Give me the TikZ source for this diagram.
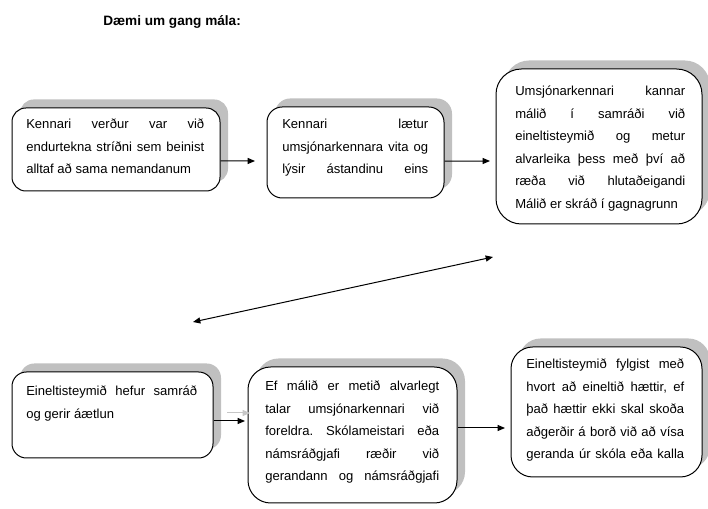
\documentclass[tikz,border=0pt]{standalone}
\usepackage{fontspec}
\setmainfont{Liberation Sans}
\usetikzlibrary{positioning,arrows.meta,calc,fit,shadows}
\definecolor{shadegray}{RGB}{192,192,192}
\newcommand{\jbreak}{{\parfillskip=0pt\par}}
\frenchspacing

\begin{document}
\begin{tikzpicture}[x=0.75pt,y=-0.75pt,
  box/.style={draw=black, line width=0.75pt, fill=white, inner sep=0pt,
    drop shadow={shadow xshift=6pt, shadow yshift=6.4pt, fill=shadegray, opacity=1}},
  boxtext/.style={anchor=north west, inner sep=0pt, align=justify,
    font=\fontsize{9.8}{16.9}\selectfont},
  arr/.style={line width=0.75pt, -{Triangle[length=5.5pt,width=4.5pt]}}]
  \useasboundingbox (0,0) rectangle (708,509);

  \node[anchor=base west, inner sep=0pt, font=\fontsize{10.2}{12}\selectfont\bfseries]
    (title) at (103,26) {Dæmi um gang mála:};

  \node[box, rounded corners=10.4pt, fit={(12,108) (220,191)}] (b1) {};
  \node[box, rounded corners=11.4pt, fit={(267,107) (444,198)}] (b2) {};
  \node[box, rounded corners=19pt, fit={(496,69) (702,224)}] (b3) {};
  \node[box, rounded corners=10.8pt, fit={(12,372) (213,458)}] (b4) {};
  \node[box, rounded corners=17pt, fit={(248,367) (457,503)}] (b5) {};
  \node[box, rounded corners=16.3pt, fit={(511,347) (702,477)}] (b6) {};

  \node[boxtext, text width=133.5pt] (t1) at (26,112.7)
    {\noindent\strut Kennari verður var við\jbreak
     endurtekna stríðni sem beinist\jbreak
     alltaf að sama nemandanum};
  \node[boxtext, text width=109.5pt] (t2) at (282,112.7)
    {\noindent\strut Kennari lætur\jbreak
     umsjónarkennara vita og\jbreak
     lýsir ástandinu eins\jbreak};
  \node[boxtext, text width=127.5pt] (t3) at (515,79.7)
    {\noindent\strut Umsjónarkennari kannar\jbreak
     málið í samráði við\jbreak
     eineltisteymið og metur\jbreak
     alvarleika þess með því að\jbreak
     ræða við hlutaðeigandi\jbreak
     Málið er skráð í gagnagrunn};
  \node[boxtext, text width=128.25pt] (t4) at (26,379.7)
    {\noindent\strut Eineltisteymið hefur samráð\jbreak
     og gerir áætlun};
  \node[boxtext, text width=130.5pt] (t5) at (265,374.7)
    {\noindent\strut Ef málið er metið alvarlegt\jbreak
     talar umsjónarkennari við\jbreak
     foreldra. Skólameistari eða\jbreak
     námsráðgjafi ræðir við\jbreak
     gerandann og námsráðgjafi\jbreak};
  \node[boxtext, text width=118.5pt] (t6) at (526,352.7)
    {\noindent\strut Eineltisteymið fylgist með\jbreak
     hvort að eineltið hættir, ef\jbreak
     það hættir ekki skal skoða\jbreak
     aðgerðir á borð við að vísa\jbreak
     geranda úr skóla eða kalla\jbreak};

  \coordinate (e1) at (255,161);
  \coordinate (e2) at (490,161);
  \coordinate (d1) at (493,257);
  \coordinate (d2) at (193,322);
  \coordinate (e4) at (245,421);
  \coordinate (g4a) at (227,413);
  \coordinate (g4b) at (250,413);
  \coordinate (e5) at (505,428);

  \draw[arr] ([yshift=-8.6pt]b1.east) -- (e1);
  \draw[arr] ([yshift=-6.4pt]b2.east) -- (e2);
  \draw[line width=0.75pt, {Triangle[length=5.5pt,width=4.5pt]}-{Triangle[length=5.5pt,width=4.5pt]}] (d1) -- (d2);
  \draw[arr, draw=gray!45, fill=gray!45] (g4a) -- (g4b);
  \draw[arr] ([yshift=-4.5pt]b4.east) -- (e4);
  \draw[arr] ([yshift=5.25pt]b5.east) -- (e5);
\end{tikzpicture}
\end{document}
